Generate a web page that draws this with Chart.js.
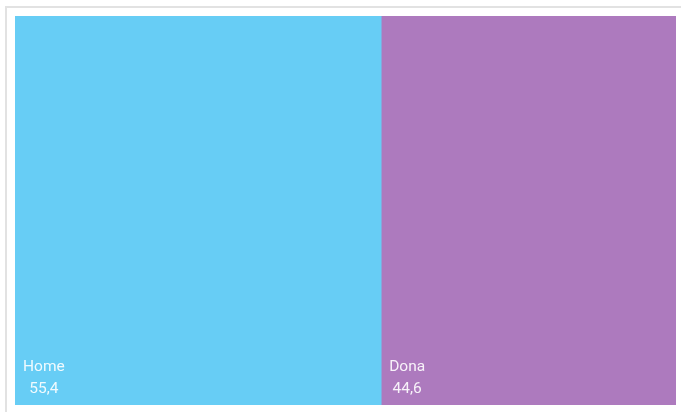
<!DOCTYPE html>
<html>
<head>
<meta charset="utf-8">
<script src="https://cdn.jsdelivr.net/npm/chart.js@4"></script>
<style>
  body { margin: 0; background: #fff; overflow: hidden; }
  .frame {
    position: absolute; left: 5px; top: 6px;
    width: 690px; height: 420px;
    border: 2px solid #e2e2e2; box-sizing: border-box;
  }
  .box { position: absolute; left: 15px; top: 16px; width: 661px; height: 389px; }
</style>
</head>
<body>
<div class="frame"></div>
<div class="box"><canvas id="treeChart"></canvas></div>
<script>
const categories = ["Home", "Dona"];
const shares = [55.4, 44.6];
const colors = ["#67cdf5", "#ad7abe"];

// writes the name and the value in the lower left corner of each block
const blockLabels = {
  id: "blockLabels",
  afterDatasetsDraw(chart) {
    const c = chart.ctx;
    c.save();
    c.font = "15.5px Roboto";
    c.fillStyle = "rgba(255,255,255,0.9)";
    c.textAlign = "center";
    c.textBaseline = "alphabetic";
    chart.data.datasets.forEach((ds, i) => {
      const bar = chart.getDatasetMeta(i).data[0];
      const left = Math.min(bar.base, bar.x);
      const bottom = bar.y + bar.height / 2;
      const name = ds.label;
      const val = ds.data[0].toFixed(1).replace(".", ",");
      const w = Math.max(c.measureText(name).width, c.measureText(val).width);
      const cx = left + 8 + w / 2;
      c.fillText(name, cx, bottom - 34);
      c.fillText(val, cx, bottom - 12);
    });
    c.restore();
  }
};

new Chart(document.getElementById("treeChart"), {
  type: "bar",
  data: {
    labels: [""],
    datasets: categories.map((name, i) => ({
      label: name,
      data: [shares[i]],
      backgroundColor: colors[i],
      borderWidth: 0,
      barPercentage: 1,
      categoryPercentage: 1,
    })),
  },
  options: {
    indexAxis: "y",
    responsive: true,
    maintainAspectRatio: false,
    animation: false,
    layout: { padding: 0 },
    scales: {
      x: { stacked: true, min: 0, max: 100, display: false },
      y: { stacked: true, display: false },
    },
    plugins: {
      legend: { display: false },
      tooltip: { enabled: false },
    },
  },
  plugins: [blockLabels],
});
</script>
</body>
</html>
